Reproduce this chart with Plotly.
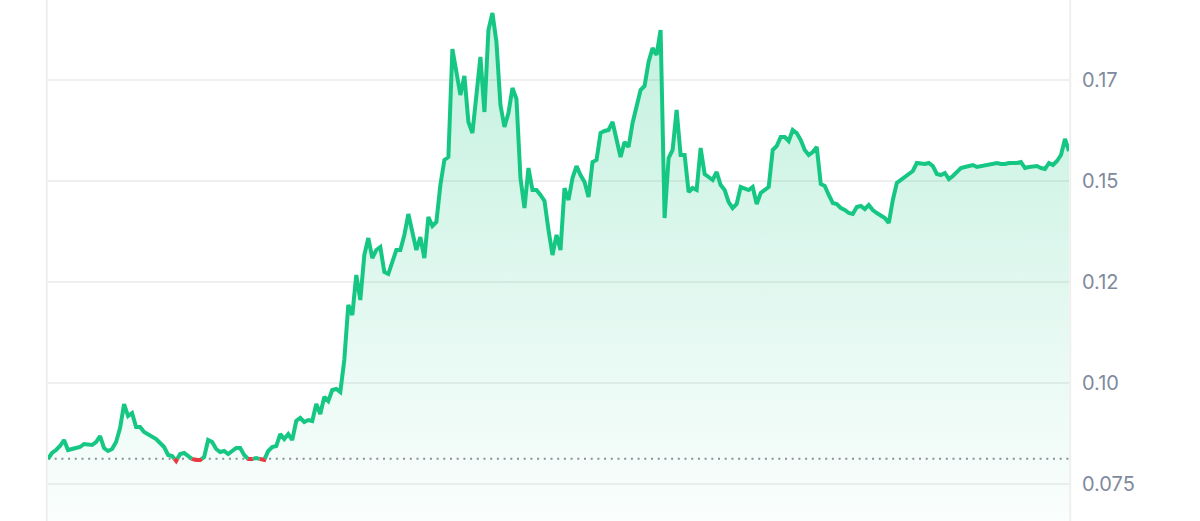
import plotly.graph_objects as go

# Price series (evenly spaced samples)
prices = [
    0.0812, 0.08265, 0.08339, 0.08438, 0.08587, 0.08339, 0.08364, 0.08389, 0.08413, 0.08488,
    0.08463, 0.08463, 0.08537, 0.08686, 0.08389, 0.08314, 0.08364, 0.08537, 0.08884, 0.09479,
    0.09181, 0.09256, 0.08909, 0.08909, 0.08785, 0.08735, 0.08686, 0.08612, 0.08512, 0.08413,
    0.08215, 0.0819, 0.08066, 0.0824, 0.08265, 0.0819, 0.08116, 0.08091, 0.08091, 0.08166,
    0.08587, 0.08537, 0.08364, 0.08289, 0.08314, 0.0824, 0.08314, 0.08389, 0.08389, 0.08215,
    0.08116, 0.08116, 0.08141, 0.08116, 0.08091, 0.08314, 0.08413, 0.08438, 0.08735, 0.08612,
    0.08735, 0.08587, 0.09058, 0.09132, 0.09033, 0.09082, 0.09058, 0.09479, 0.09231, 0.09652,
    0.09553, 0.09826, 0.09851, 0.09776, 0.10569, 0.11932, 0.11684, 0.12675, 0.12056, 0.13171,
    0.13592, 0.13097, 0.13295, 0.13369, 0.1275, 0.127, 0.12998, 0.13295, 0.13295, 0.13667,
    0.14187, 0.13741, 0.13295, 0.13617, 0.13097, 0.14113, 0.1389, 0.13989, 0.14906, 0.15525,
    0.156, 0.18276, 0.17706, 0.17136, 0.17607, 0.16467, 0.16194, 0.17111, 0.18078, 0.16715,
    0.18747, 0.19168, 0.18449, 0.16888, 0.16343, 0.1669, 0.17309, 0.17037, 0.15079, 0.14336,
    0.15327, 0.14782, 0.14782, 0.14658, 0.14509, 0.13791, 0.13171, 0.13667, 0.13295, 0.14831,
    0.14534, 0.15079, 0.15376, 0.15153, 0.1498, 0.14608, 0.15476, 0.15525, 0.16194, 0.16244,
    0.16269, 0.16467, 0.1607, 0.156, 0.15971, 0.15847, 0.16442, 0.16888, 0.1726, 0.17359,
    0.17954, 0.18301, 0.18127, 0.18747, 0.14088, 0.15575, 0.15773, 0.16764, 0.15649, 0.15649,
    0.14732, 0.14831, 0.14782, 0.15823, 0.15178, 0.15104, 0.1503, 0.15228, 0.14906, 0.14782,
    0.14484, 0.14336, 0.14435, 0.14856, 0.14831, 0.14782, 0.14856, 0.14435, 0.14707, 0.14782,
    0.14856, 0.15773, 0.15872, 0.16095, 0.16095, 0.15996, 0.16269, 0.16194, 0.16021, 0.15773,
    0.15649, 0.15723, 0.15847, 0.1493, 0.14881, 0.14658, 0.1446, 0.14435, 0.14336, 0.14286,
    0.14212, 0.14187, 0.1436, 0.14385, 0.14311, 0.1441, 0.14286, 0.14212, 0.14162, 0.14088,
    0.13964, 0.14534, 0.14955, 0.1503, 0.15129, 0.15178, 0.15253, 0.15451, 0.15426, 0.15426,
    0.15451, 0.15376, 0.15178, 0.15153, 0.15203, 0.15054, 0.15129, 0.15228, 0.15327, 0.15352,
    0.15376, 0.15401, 0.15352, 0.15376, 0.15401, 0.15401, 0.15426, 0.15451, 0.15426, 0.15426,
    0.15451, 0.15451, 0.15451, 0.15476, 0.15327, 0.15352, 0.15352, 0.15376, 0.15327, 0.15302,
    0.15451, 0.15401, 0.155, 0.15649, 0.16046, 0.15748,
]
base_price = prices[0]

tick_vals = [0.075, 0.10, 0.125, 0.15, 0.175]
tick_text = ["0.075", "0.10", "0.12", "0.15", "0.17"]
y_range = [0.0658, 0.1949]

GREEN = "#16c784"
RED = "#ea3943"
GRID = "#efefef"
LABEL = "#808a9d"

# insert baseline crossing points so the line can switch colour exactly there
xs, ys = [], []
for i, p in enumerate(prices):
    if i > 0:
        q = prices[i - 1]
        if (q - base_price) * (p - base_price) < 0:
            t = (base_price - q) / (p - q)
            xs.append(i - 1 + t)
            ys.append(base_price)
    xs.append(i)
    ys.append(p)

green = [y if y >= base_price else None for y in ys]
red = [y if y <= base_price else None for y in ys]
n = len(prices)

fig = go.Figure()
fig.add_trace(go.Scatter(
    x=xs, y=ys, mode="lines", line=dict(width=0), fill="tozeroy",
    fillgradient=dict(type="vertical", start=y_range[0], stop=max(prices),
                      colorscale=[[0, "rgba(22,199,132,0.02)"], [1, "rgba(22,199,132,0.26)"]]),
    hoverinfo="skip", showlegend=False))
fig.add_trace(go.Scatter(
    x=[0, n - 1], y=[base_price, base_price], mode="lines",
    line=dict(color="#8a8f99", width=2, dash="2px,4.7px"),
    hoverinfo="skip", showlegend=False))
fig.add_trace(go.Scatter(
    x=xs, y=green, mode="lines", line=dict(color=GREEN, width=4),
    connectgaps=False, showlegend=False))
fig.add_trace(go.Scatter(
    x=xs, y=red, mode="lines", line=dict(color=RED, width=4),
    connectgaps=False, showlegend=False))

for xp in (-0.0012, 1.0012):
    fig.add_shape(type="line", xref="paper", yref="paper", x0=xp, x1=xp, y0=0, y1=1,
                  line=dict(color=GRID, width=2), layer="below")

fig.update_layout(
    width=1200, height=521,
    margin=dict(l=48, r=131, t=0, b=0, pad=0),
    paper_bgcolor="white", plot_bgcolor="white",
    xaxis=dict(visible=False, range=[0, n - 1]),
    yaxis=dict(
        side="right", range=y_range, tickvals=tick_vals, ticktext=tick_text,
        showgrid=True, gridcolor=GRID, gridwidth=2, zeroline=False, showline=False,
        ticks="", ticklabelstandoff=12,
        tickfont=dict(family="Inter", size=20, color=LABEL),
    ),
)

fig.write_html("out.html", config={"displayModeBar": False},
               post_script="document.body.style.margin='0';document.body.style.overflow='hidden';")
